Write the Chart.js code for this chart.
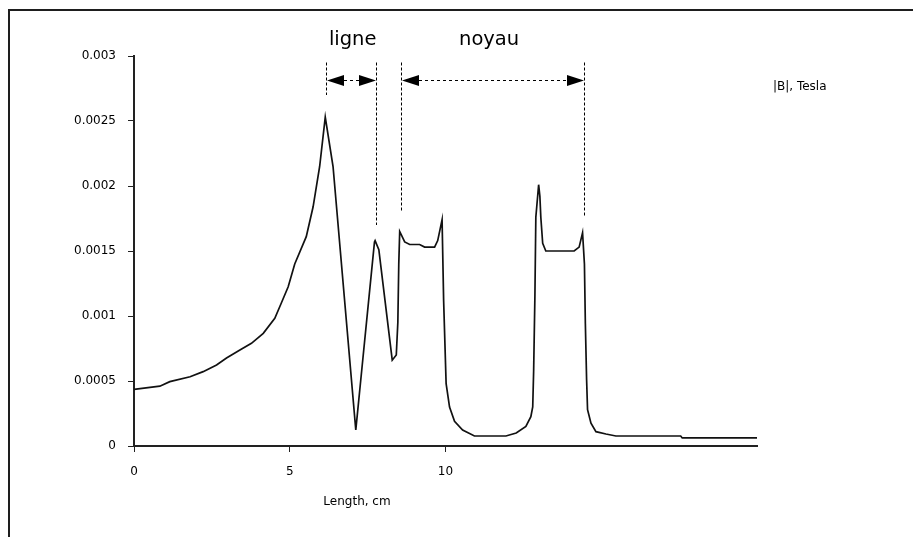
<!DOCTYPE html>
<html>
<head>
<meta charset="utf-8">
<script src="https://cdn.jsdelivr.net/npm/chart.js@4.4.1/dist/chart.umd.min.js"></script>
<style>
  html, body { margin: 0; padding: 0; background: #fff; }
  canvas { display: block; }
</style>
</head>
<body>
<canvas id="c" width="913" height="537"></canvas>
<script>
// ---- data ----
const lengthCm = [0, 0.83, 1.15, 1.8, 2.22, 2.65, 2.97, 3.4, 3.77, 4.15, 4.52, 4.73, 4.95, 5.16, 5.53, 5.75, 5.96, 6.14, 6.39,
  7.12, 7.72, 7.74, 7.86, 8.29, 8.42, 8.47, 8.5, 8.53, 8.69, 8.85, 9.17, 9.33, 9.65, 9.75, 9.89,
  9.94, 10.02, 10.13, 10.29, 10.55, 10.93, 11.94, 12.27, 12.58, 12.74, 12.8, 12.83, 12.87, 12.9,
  12.99, 13.03, 13.06, 13.12, 13.22, 14.13, 14.29, 14.4, 14.46, 14.49, 14.53, 14.56, 14.67, 14.83,
  15.15, 15.47, 17.55, 17.6, 20];
const fieldTesla = [0.000436, 0.00046, 0.000495, 0.000533, 0.000572, 0.000623, 0.000677, 0.000738, 0.00079, 0.000867, 0.000982, 0.0011, 0.001225, 0.0014, 0.00161, 0.00184, 0.00215, 0.00253, 0.00215,
  0.000123, 0.00157, 0.00158, 0.00151, 0.00066, 0.0007, 0.00095, 0.0014, 0.00165, 0.00157, 0.00155, 0.00155, 0.00153, 0.00153, 0.00158, 0.00174,
  0.00112, 0.00048, 0.0003, 0.00019, 0.000123, 0.000077, 0.000077, 0.0001, 0.00015, 0.000225, 0.0003, 0.00058, 0.00115, 0.00176,
  0.00201, 0.00192, 0.00176, 0.00156, 0.0015, 0.0015, 0.00153, 0.00164, 0.0014, 0.00094, 0.00051, 0.00028, 0.000175, 0.00011,
  0.000092, 0.000077, 0.000077, 0.000062, 0.000062];
const xTickValues = [0, 5, 10];
const yTickValues = [0, 0.0005, 0.001, 0.0015, 0.002, 0.0025, 0.003];
const yTickLabels = ['0', '0.0005', '0.001', '0.0015', '0.002', '0.0025', '0.003'];
const seriesName = '|B|, Tesla';
const xTitle = 'Length, cm';

// annotation markers (in data units)
const markerX = [6.15, 7.77, 8.56, 14.45];
const markerBottom = [0.0027, 0.0017, 0.0018, 0.00176];
const markerTop = 0.00295;
const arrowLevel = 0.002815;
const spanNames = ['ligne', 'noyau'];
const spanStart = [6.15, 8.56];
const spanEnd = [7.77, 14.45];
const spanLabelX = [7.02, 11.4];
const spanLabelLevel = 0.003085;

const points = lengthCm.map((x, i) => ({ x: x, y: fieldTesla[i] }));

const SMALL_FONT = '12px "DejaVu Sans"';

const decorations = {
  id: 'decorations',
  beforeDraw(chart) {
    const ctx = chart.ctx;
    ctx.save();
    ctx.fillStyle = '#fff';
    ctx.fillRect(0, 0, chart.width, chart.height);
    ctx.strokeStyle = '#1e1e1e';
    ctx.lineWidth = 2;
    ctx.beginPath();
    ctx.moveTo(9, 537);
    ctx.lineTo(9, 10);
    ctx.lineTo(913, 10);
    ctx.stroke();
    ctx.restore();
  },
  afterDraw(chart) {
    const ctx = chart.ctx;
    const xs = chart.scales.x, ys = chart.scales.y;
    ctx.save();
    // dashed marker lines
    ctx.strokeStyle = '#000';
    ctx.lineWidth = 1;
    ctx.setLineDash([3, 2]);
    markerX.forEach((mx, i) => {
      const px = Math.round(xs.getPixelForValue(mx)) + 0.5;
      ctx.beginPath();
      ctx.moveTo(px, ys.getPixelForValue(markerTop));
      ctx.lineTo(px, ys.getPixelForValue(markerBottom[i]));
      ctx.stroke();
    });
    // arrows
    const ay = Math.round(ys.getPixelForValue(arrowLevel)) + 0.5;
    const headL = 17, headH = 5.5;
    spanStart.forEach((s, i) => {
      const x1 = Math.round(xs.getPixelForValue(s)) + 1;
      const x2 = Math.round(xs.getPixelForValue(spanEnd[i]));
      ctx.setLineDash([3, 3]);
      ctx.beginPath();
      ctx.moveTo(x1 + headL, ay);
      ctx.lineTo(x2 - headL, ay);
      ctx.stroke();
      ctx.setLineDash([]);
      ctx.fillStyle = '#000';
      ctx.beginPath();
      ctx.moveTo(x1, ay);
      ctx.lineTo(x1 + headL, ay - headH);
      ctx.lineTo(x1 + headL, ay + headH);
      ctx.closePath();
      ctx.fill();
      ctx.beginPath();
      ctx.moveTo(x2, ay);
      ctx.lineTo(x2 - headL, ay - headH);
      ctx.lineTo(x2 - headL, ay + headH);
      ctx.closePath();
      ctx.fill();
      // label
      ctx.font = '19.5px "DejaVu Sans"';
      ctx.textAlign = 'center';
      ctx.textBaseline = 'alphabetic';
      ctx.fillText(spanNames[i], xs.getPixelForValue(spanLabelX[i]), ys.getPixelForValue(spanLabelLevel));
    });
    // series name
    ctx.font = SMALL_FONT;
    ctx.fillStyle = '#000';
    ctx.textAlign = 'left';
    ctx.textBaseline = 'middle';
    ctx.fillText(seriesName, 773, 87);
    // x title
    ctx.textAlign = 'center';
    ctx.fillText(xTitle, 357, 502);
    ctx.restore();
  }
};

new Chart(document.getElementById('c'), {
  type: 'line',
  data: {
    datasets: [{
      label: seriesName,
      data: points,
      borderColor: '#111',
      borderWidth: 1.7,
      pointRadius: 0,
      tension: 0,
      fill: false
    }]
  },
  options: {
    responsive: false,
    animation: false,
    devicePixelRatio: 1,
    layout: { padding: { left: 0, top: 56, right: 156, bottom: 0 } },
    plugins: { legend: { display: false }, tooltip: { enabled: false } },
    scales: {
      x: {
        type: 'linear',
        min: 0, max: 20,
        afterFit(s) { s.height = 91; },
        afterBuildTicks(s) { s.ticks = xTickValues.map(v => ({ value: v })); },
        grid: { display: true, drawOnChartArea: false, drawTicks: true, tickLength: 6, tickColor: '#222', tickWidth: 1 },
        border: { display: true, color: '#222', width: 2 },
        ticks: { color: '#000', font: { family: 'DejaVu Sans', size: 12 }, padding: 13, maxRotation: 0, autoSkip: false,
          callback: v => String(v) }
      },
      y: {
        min: 0, max: 0.003,
        afterFit(s) { s.width = 134; },
        afterBuildTicks(s) { s.ticks = yTickValues.map(v => ({ value: v })); },
        grid: { display: true, drawOnChartArea: false, drawTicks: true, tickLength: 6, tickColor: '#222', tickWidth: 1 },
        border: { display: true, color: '#222', width: 2 },
        ticks: { color: '#000', font: { family: 'DejaVu Sans', size: 12 }, padding: 12, autoSkip: false,
          callback: (v, i) => yTickLabels[yTickValues.indexOf(v)] ?? '' }
      }
    }
  },
  plugins: [decorations]
});
</script>
</body>
</html>
